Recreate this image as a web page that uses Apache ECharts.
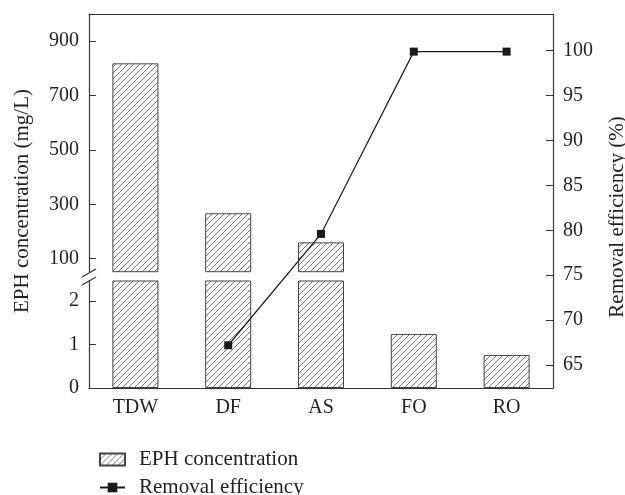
<!DOCTYPE html>
<html>
<head>
<meta charset="utf-8">
<script src="https://cdn.jsdelivr.net/npm/echarts@6/dist/echarts.min.js"></script>
<style>
  html, body { margin: 0; padding: 0; background: #fff; }
  #chart { width: 625px; height: 495px; }
</style>
</head>
<body>
<div id="chart"></div>
<script>
const categories = ['TDW', 'DF', 'AS', 'FO', 'RO']
const ephConcentration = [818, 267, 160, 1.24, 0.76]
const removalEfficiency = [null, 67.2, 79.6, 99.9, 99.9]
const upperTicks = [100, 300, 500, 700, 900]
const lowerTicks = [0, 1, 2]
const rightTicks = [65, 70, 75, 80, 85, 90, 95, 100]

const font = 'Liberation Serif'
const ink = '#231f20'
const frame = '#333'

// diagonal hatch used for the bars and the legend box
function hatch() {
  const c = document.createElement('canvas')
  c.width = 6
  c.height = 6
  const ctx = c.getContext('2d')
  ctx.fillStyle = '#fff'
  ctx.fillRect(0, 0, 6, 6)
  ctx.strokeStyle = '#555'
  ctx.lineWidth = 0.8
  ctx.beginPath()
  ctx.moveTo(-1, 7); ctx.lineTo(7, -1)
  ctx.moveTo(-1, 1); ctx.lineTo(1, -1)
  ctx.moveTo(5, 7); ctx.lineTo(7, 5)
  ctx.stroke()
  return c
}
const barStyle = {
  color: { image: hatch(), repeat: 'repeat' },
  borderColor: '#444',
  borderWidth: 1
}

const labelStyle = { fontFamily: font, fontSize: 20, color: ink }
const gridBox = { left: 89, right: 72, outerBoundsMode: 'none', containLabel: false }
const legendBase = {
  left: 99,
  itemWidth: 25,
  itemHeight: 12,
  padding: 0,
  textStyle: { fontFamily: font, fontSize: 21, color: ink, padding: [0, 0, 0, 9] }
}

const chart = echarts.init(document.getElementById('chart'))
chart.setOption({
  animation: false,
  textStyle: { fontFamily: font },
  grid: [
    { ...gridBox, top: 14, bottom: 223.3 },
    { ...gridBox, top: 281, bottom: 107 },
    { ...gridBox, top: 14, bottom: 107 }
  ],
  legend: [
    { ...legendBase, top: 449, data: [{ name: 'EPH concentration', icon: 'rect' }] },
    { ...legendBase, top: 477, data: [{ name: 'Removal efficiency' }] }
  ],
  xAxis: [{
    gridIndex: 0,
    type: 'category',
    data: categories,
    position: 'top',
    axisLine: { lineStyle: { color: frame, width: 1.2 } },
    axisTick: { show: false },
    axisLabel: { show: false }
  }, {
    gridIndex: 1,
    type: 'category',
    data: categories,
    axisLine: { lineStyle: { color: frame, width: 1.2 } },
    axisTick: { inside: true, alignWithLabel: true, length: 6, lineStyle: { color: frame } },
    axisLabel: { ...labelStyle, margin: 10 }
  }, {
    gridIndex: 2,
    type: 'category',
    data: categories,
    show: false
  }],
  yAxis: [{
    gridIndex: 0,
    type: 'value',
    min: 52.2,
    max: 999.3,
    axisLine: { show: true, lineStyle: { color: frame, width: 1.2 } },
    axisTick: { show: true, inside: true, length: 7, customValues: upperTicks, lineStyle: { color: frame } },
    axisLabel: { ...labelStyle, margin: 10, customValues: upperTicks },
    splitLine: { show: false }
  }, {
    gridIndex: 1,
    type: 'value',
    min: 0,
    max: 2.46,
    axisLine: { show: true, lineStyle: { color: frame, width: 1.2 } },
    axisTick: { show: true, inside: true, length: 7, customValues: lowerTicks, lineStyle: { color: frame } },
    axisLabel: { ...labelStyle, margin: 10, customValues: lowerTicks },
    splitLine: { show: false }
  }, {
    gridIndex: 2,
    type: 'value',
    position: 'right',
    min: 62.44,
    max: 104.09,
    name: 'Removal efficiency (%)',
    nameLocation: 'middle',
    nameRotate: 90,
    nameGap: 54,
    nameTextStyle: { fontFamily: font, fontSize: 21, color: ink, padding: [0, 32, 0, 0] },
    axisLine: { show: true, lineStyle: { color: frame, width: 1.2 } },
    axisTick: { show: true, inside: true, length: 7, customValues: rightTicks, lineStyle: { color: frame } },
    axisLabel: { ...labelStyle, margin: 10, customValues: rightTicks },
    splitLine: { show: false }
  }, {
    gridIndex: 2,
    type: 'value',
    position: 'left',
    name: 'EPH concentration (mg/L)',
    nameLocation: 'middle',
    nameRotate: 90,
    nameGap: 56,
    nameTextStyle: { fontFamily: font, fontSize: 21, color: ink },
    axisLine: { show: false },
    axisTick: { show: false },
    axisLabel: { show: false },
    splitLine: { show: false }
  }],
  graphic: [
    { type: 'line', shape: { x1: 82, y1: 277, x2: 96, y2: 269 }, style: { stroke: frame, lineWidth: 1.2 } },
    { type: 'line', shape: { x1: 82, y1: 285, x2: 96, y2: 277 }, style: { stroke: frame, lineWidth: 1.2 } }
  ],
  series: [{
    name: 'EPH concentration',
    type: 'bar',
    xAxisIndex: 0,
    yAxisIndex: 0,
    barWidth: 46,
    clip: true,
    itemStyle: barStyle,
    data: ephConcentration
  }, {
    name: 'EPH concentration',
    type: 'bar',
    xAxisIndex: 1,
    yAxisIndex: 1,
    barWidth: 46,
    clip: true,
    itemStyle: barStyle,
    data: ephConcentration
  }, {
    name: 'Removal efficiency',
    type: 'line',
    xAxisIndex: 2,
    yAxisIndex: 2,
    symbol: 'rect',
    symbolSize: 8,
    lineStyle: { color: '#1a1a1a', width: 1.2 },
    itemStyle: { color: '#1a1a1a' },
    data: removalEfficiency
  }]
})
</script>
</body>
</html>
